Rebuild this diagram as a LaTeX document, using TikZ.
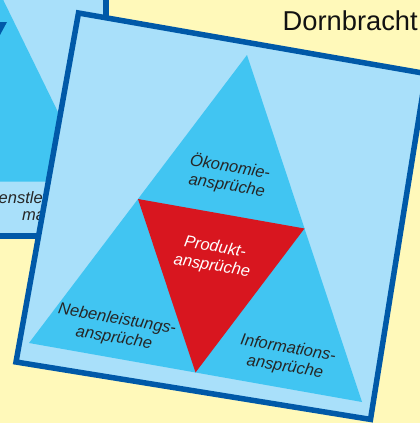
\documentclass[tikz,border=0pt]{standalone}
\usepackage{fontspec}
\setmainfont{Liberation Sans}
\usetikzlibrary{calc}
\definecolor{bgyellow}{HTML}{FFF9BA}
\definecolor{cardblue}{HTML}{A9E0FA}
\definecolor{triblue}{HTML}{41C5F2}
\definecolor{borderblue}{HTML}{0059A8}
\definecolor{prodred}{HTML}{D8161F}
\definecolor{textgray}{HTML}{262626}
\begin{document}
\begin{tikzpicture}[x=1pt,y=-1pt,
  cardborder/.style={draw=borderblue, line width=5.5pt, line join=miter},
  trilabel/.style={font=\fontsize{16.5}{18.9}\selectfont\itshape, text=textgray, align=center, inner sep=0pt, rotate=-9.6},
  backlabel/.style={font=\fontsize{16.5}{18.7}\selectfont\itshape, text=textgray, inner sep=0pt, anchor=base west}
]
\useasboundingbox (0,0) rectangle (420,423);
\clip (0,0) rectangle (420,423);
\fill[bgyellow] (-5,-5) rectangle (425,428);
% back card
\fill[cardblue] (-60,-60) rectangle (105.8,236);
\fill[triblue] (-60,181.7) -- (92,181.7) -- (-6.5,-20) -- (-60,-20) -- cycle;
\fill[borderblue] (-60,22) -- (7,22) -- (-19.4,71) -- cycle;
\node[backlabel] (bt1) at (-1.5,203) {enstlei};
\node[backlabel] (bt2) at (22,220) {ma};
\draw[cardborder] (-60,-60) rectangle (105.8,236);
% front card
\coordinate (TL) at (78.5,13);
\coordinate (TR) at (426,73.6);
\coordinate (BR) at (370.5,419.4);
\coordinate (BL) at (16,362);
\fill[cardblue] (TL) -- (TR) -- (BR) -- (BL) -- cycle;
\coordinate (A) at (247,55);
\coordinate (B) at (29,343);
\coordinate (C) at (362,402);
\fill[triblue] (A) -- (B) -- (C) -- cycle;
\fill[prodred] ($(A)!0.5!(B)$) -- ($(A)!0.5!(C)$) -- ($(B)!0.5!(C)$) -- cycle;
\draw[cardborder] (TL) -- (TR) -- (BR) -- (BL) -- cycle;
\node[trilabel] (oek) at (228.5,176) {Ökonomie-\\ansprüche};
\node[trilabel, text=white] (prod) at (213.5,257) {Produkt-\\ansprüche};
\node[trilabel] (neben) at (115.5,329) {Nebenleistungs-\\ansprüche};
\node[trilabel] (info) at (286.5,358) {Informations-\\ansprüche};
\node[font=\fontsize{27.3}{30}\selectfont, text=black!93, anchor=base west, inner sep=0pt] (dorn) at (282.5,30) {Dornbracht};
\end{tikzpicture}
\end{document}
